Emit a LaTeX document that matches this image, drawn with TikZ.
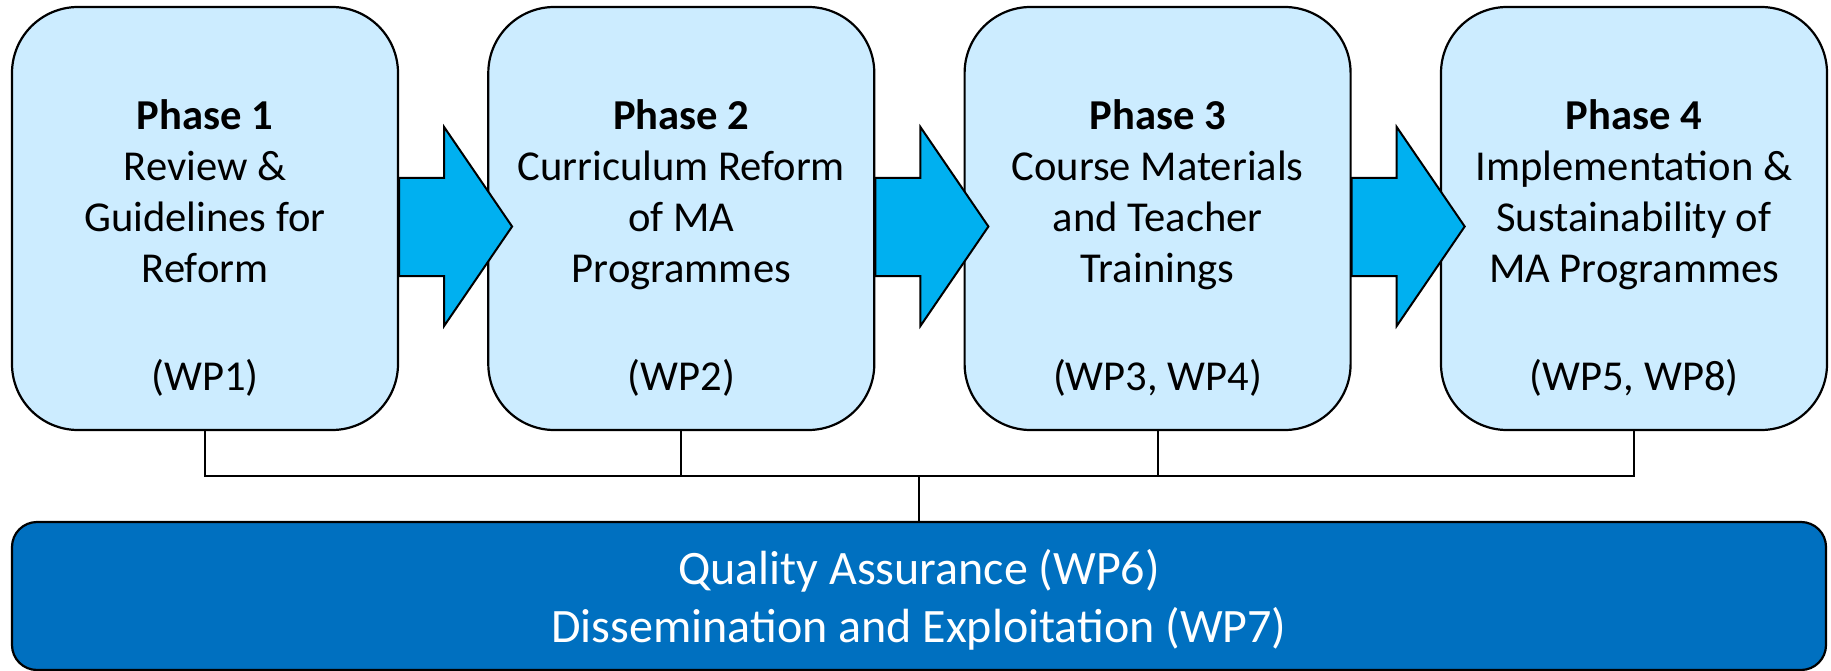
\documentclass[tikz,border=0pt]{standalone}
\usepackage{fontspec}
\setmainfont{Carlito}
\definecolor{phasefill}{HTML}{CCECFF}
\definecolor{flowfill}{HTML}{00B0F0}
\definecolor{qafill}{HTML}{0070C0}
\tikzset{
  phase/.style={draw, line width=2.2pt, fill=phasefill, rounded corners=66pt,
    minimum width=386pt, minimum height=423pt, inner sep=0pt},
  phasetext/.style={font=\fontsize{42.6}{51}\selectfont, align=center,
    anchor=north, inner sep=0pt},
  flow/.style={draw, line width=2pt, fill=flowfill, line join=miter},
  wire/.style={draw, line width=2pt},
  qabox/.style={draw, line width=2.2pt, fill=qafill, rounded corners=25pt,
    minimum width=1814pt, minimum height=148pt, inner sep=0pt},
  qatext/.style={text=white, font=\fontsize{48}{58}\selectfont, align=center,
    inner sep=0pt}
}
\begin{document}
\begin{tikzpicture}[x=1pt,y=-1pt]
      \useasboundingbox (0,0) rectangle (1831,671);
      \draw
        (205,218.5) node[phase] (p1){}
        (681.3,218.5) node[phase] (p2){}
        (1157.6,218.5) node[phase] (p3){}
        (1634,218.5) node[phase] (p4){};
      \node[qabox] (qa) at (919,596) {};
      \node[qatext] (qt) at (919,600)
        {Quality Assurance (WP6)\\Dissemination and Exploitation (WP7)};
      % block arrows between the phases
      \foreach \a in {p1,p2,p3}
        \draw[flow] ([yshift=40.5pt]\a.east) -- ++(45,0) -- ++(0,-51)
          -- ++(68,99.5) -- ++(-68,99.5) -- ++(0,-50) -- ++(-45,0) -- cycle;
      \node[phasetext] (t1) at (205,99)
        {\textbf{Phase 1}\\Review \&\\Guidelines for\\Reform\\[57pt](WP1)};
      \node[phasetext] (t2) at (681.3,99)
        {\textbf{Phase 2}\\Curriculum Reform\\of MA\\Programmes\\[57pt](WP2)};
      \node[phasetext] (t3) at (1157.6,99)
        {\textbf{Phase 3}\\Course Materials\\and Teacher\\Trainings\\[57pt](WP3, WP4)};
      \node[phasetext] (t4) at (1634,99)
        {\textbf{Phase 4}\\Implementation \&\\Sustainability of\\MA Programmes\\[57pt](WP5, WP8)};
      % bus down to the quality box
      \coordinate (bus) at (919,476);
      \begin{scope}[wire]
        \draw (p1.south) |- (bus -| p4.south) -- (p4.south);
        \draw (p2.south) -- (p2.south |- bus);
        \draw (p3.south) -- (p3.south |- bus);
        \draw (bus) -- (qa.north);
      \end{scope}
    \end{tikzpicture}
\end{document}
